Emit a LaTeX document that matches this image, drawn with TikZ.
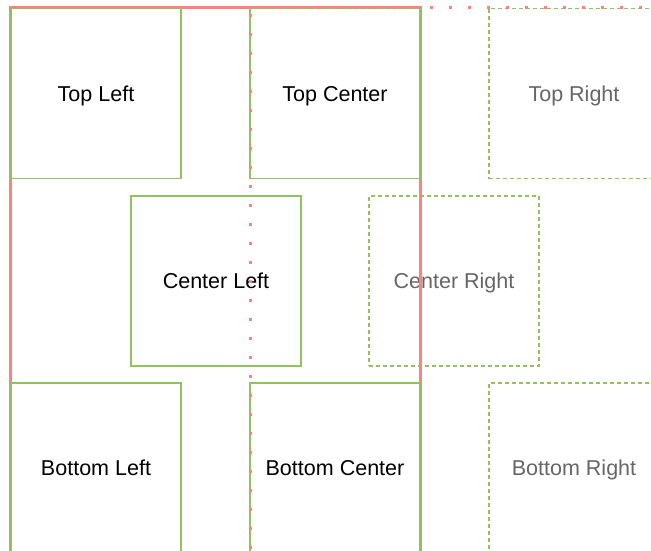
\documentclass[tikz,border=0pt]{standalone}
\usepackage{fontspec}
\setmainfont{Liberation Sans}
\begin{document}
\begin{tikzpicture}[x=1bp,y=-1bp]
\definecolor{gline}{RGB}{146,194,95}
\definecolor{rline}{RGB}{255,128,128}
\definecolor{gtext}{RGB}{102,102,102}
\tikzset{
  cell/.style={draw=gline, line width=1.6bp, minimum width=170bp, minimum height=170bp,
    inner sep=0pt, outer sep=0pt, anchor=north west, text=black,
    text height=15.5bp, text depth=0pt,
    font=\fontsize{21.6}{26}\selectfont},
  ghost/.style={cell, dash pattern=on 4bp off 3bp, text=gtext},
  guide/.style={draw=rline, line width=3bp},
  dotguide/.style={draw=rline, line width=3bp, dash pattern=on 3bp off 16bp, dash phase=10bp}
}
\clip (0,0) rectangle (651,551);
\fill[white] (0,0) rectangle (651,551);
% ghost cells
\node[ghost] (tr) at (489,8.5) {Top Right};
\node[ghost] (cr) at (369,196) {Center Right};
\node[ghost] (br) at (489,383) {Bottom Right};
% solid red guide
\coordinate (rb1) at (10.5,565);
\coordinate (rtl) at (10.5,7.5);
\coordinate (rtr) at (420.5,7.5);
\coordinate (rb2) at (420.5,565);
\draw[guide] (rb1) -- (rtl) -- (rtr) -- (rb2);
% solid cells
\node[cell] (tl) at (11,8.5) {Top Left};
\node[cell] (tc) at (250,8.5) {Top Center};
\node[cell] (cl) at (131,196) {Center Left};
\node[cell] (bl) at (11,383) {Bottom Left};
\node[cell] (bc) at (250,383) {Bottom Center};
% dotted red guides
\coordinate (dc) at (250,8);
\coordinate (dr) at (670,8);
\coordinate (db) at (250,565);
\draw[dotguide] (dc) -- (dr);
\draw[dotguide, dash phase=13bp] (dc) -- (db);
\end{tikzpicture}
\end{document}
